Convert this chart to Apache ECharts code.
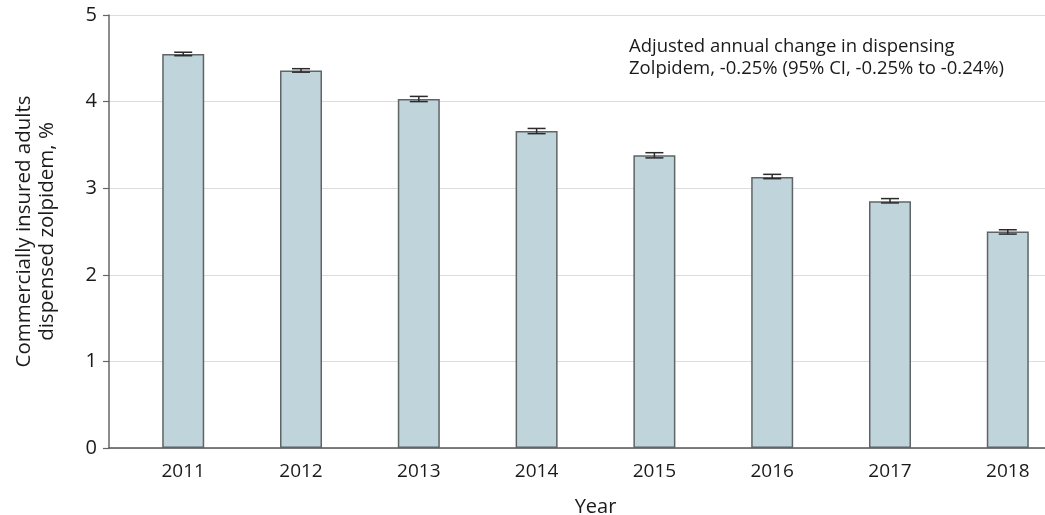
<!DOCTYPE html>
<html>
<head>
<meta charset="utf-8">
<script src="https://cdn.jsdelivr.net/npm/echarts@6/dist/echarts.min.js"></script>
<style>
  html, body { margin: 0; padding: 0; background: #fff; }
  #chart { width: 1045px; height: 515px; }
</style>
</head>
<body>
<div id="chart"></div>
<script>
// Share of commercially insured adults dispensed zolpidem, by year
var years = [2011, 2012, 2013, 2014, 2015, 2016, 2017, 2018];
var pctDispensed = [4.55, 4.36, 4.03, 3.66, 3.38, 3.13, 2.85, 2.50];
var ciLower = [4.53, 4.34, 4.00, 3.63, 3.35, 3.11, 2.83, 2.47];
var ciUpper = [4.57, 4.38, 4.06, 3.69, 3.41, 3.16, 2.88, 2.52];
var yTicks = [0, 1, 2, 3, 4, 5];
var noteLines = [
  'Adjusted annual change in dispensing',
  'Zolpidem, -0.25% (95% CI, -0.25% to -0.24%)'
];

var FONT = '"Open Sans", "Noto Sans", sans-serif';
var TEXT = '#1a1a1a';

var barData = years.map(function (y, i) { return [y, pctDispensed[i]]; });
var ciData = years.map(function (y, i) { return [y, ciLower[i], ciUpper[i]]; });

var chart = echarts.init(document.getElementById('chart'), null, { renderer: 'canvas' });

chart.setOption({
  animation: false,
  backgroundColor: '#ffffff',
  textStyle: { fontFamily: FONT },
  title: {
    text: noteLines.join('\n'),
    left: 624,
    top: 31,
    textStyle: {
      fontFamily: FONT,
      fontSize: 18.5,
      fontWeight: 'normal',
      color: TEXT,
      lineHeight: 22
    }
  },
  // the plotting area runs a little past the right edge of the page
  grid: {
    left: 109, top: 15, width: 973, bottom: 67,
    containLabel: false,
    outerBoundsMode: 'none'
  },
  xAxis: {
    type: 'value',
    min: years[0] - 0.63,
    max: years[years.length - 1] + 0.63,
    name: 'Year',
    nameLocation: 'middle',
    nameGap: 49,
    nameTextStyle: { fontFamily: FONT, fontSize: 20, color: TEXT },
    axisLine: { show: true, onZero: false, lineStyle: { color: '#555', width: 1.5 } },
    axisTick: { show: false },
    splitLine: { show: false },
    axisLabel: {
      customValues: years,
      margin: 14,
      fontFamily: FONT,
      fontSize: 19,
      color: TEXT,
      formatter: function (v) { return String(v); }
    }
  },
  yAxis: {
    type: 'value',
    min: yTicks[0],
    max: yTicks[yTicks.length - 1],
    interval: 1,
    name: 'Commercially insured adults\ndispensed zolpidem, %',
    nameLocation: 'middle',
    nameGap: 50,
    nameTextStyle: { fontFamily: FONT, fontSize: 20.5, color: TEXT, lineHeight: 23 },
    axisLine: { show: true, lineStyle: { color: '#666', width: 1.5 } },
    axisTick: { show: true, length: 6, lineStyle: { color: '#666', width: 1.2 } },
    axisLabel: { margin: 12, fontFamily: FONT, fontSize: 20, color: TEXT },
    splitLine: { show: true, lineStyle: { color: '#dcdcdc', width: 1.2 } }
  },
  series: [
    {
      type: 'bar',
      data: barData,
      barWidth: 42,
      itemStyle: { color: '#c0d4dc', borderColor: '#5f6466', borderWidth: 1.5 },
      z: 2
    },
    {
      // 95% confidence interval whiskers
      type: 'custom',
      data: ciData,
      z: 3,
      renderItem: function (params, api) {
        var x = api.value(0);
        var lo = api.coord([x, api.value(1)]);
        var hi = api.coord([x, api.value(2)]);
        var half = 9;
        var style = { stroke: '#2b2b2b', lineWidth: 1.5 };
        return {
          type: 'group',
          children: [
            { type: 'line', shape: { x1: lo[0], y1: lo[1], x2: hi[0], y2: hi[1] }, style: style },
            { type: 'line', shape: { x1: lo[0] - half, y1: lo[1], x2: lo[0] + half, y2: lo[1] }, style: style },
            { type: 'line', shape: { x1: hi[0] - half, y1: hi[1], x2: hi[0] + half, y2: hi[1] }, style: style }
          ]
        };
      }
    }
  ]
});
</script>
</body>
</html>
